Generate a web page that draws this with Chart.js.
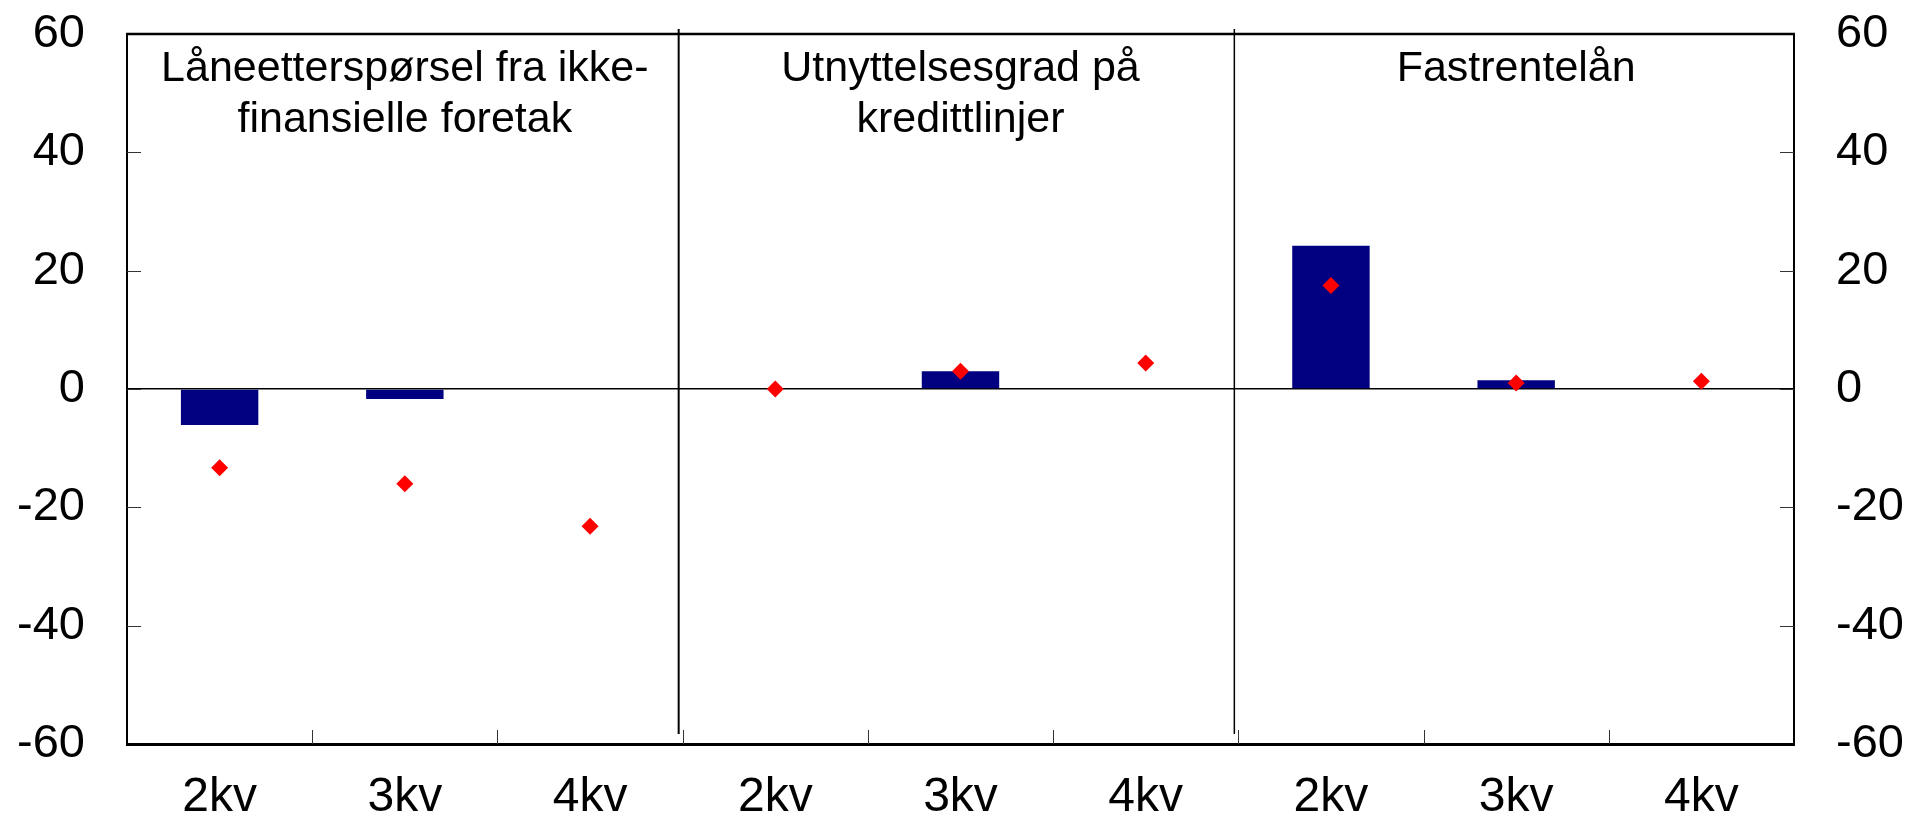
<!DOCTYPE html>
<html><head><meta charset="utf-8">
<script src="https://cdn.jsdelivr.net/npm/chart.js@4/dist/chart.umd.min.js"></script>
<style>html,body{margin:0;padding:0;background:#fff;overflow:hidden}#wrap{width:1908px;height:821px;position:relative}</style>
</head><body><div id="wrap"><canvas id="c" width="1908" height="821"></canvas></div>
<script>
const categories = ['2kv','3kv','4kv','2kv','3kv','4kv','2kv','3kv','4kv'];
const panelTitles = [['Låneetterspørsel fra ikke-','finansielle foretak'],['Utnyttelsesgrad på','kredittlinjer'],['Fastrentelån']];
const barValues = [-6.1, -1.7, null, null, 3.0, null, 24.2, 1.5, null];
const pointValues = [-13.3, -16.0, -23.2, 0.0, 3.0, 4.4, 17.5, 1.0, 1.3];
const yTicks = [-60, -40, -20, 0, 20, 40, 60];

const FONT = "'Liberation Sans', Arial, Helvetica, sans-serif";

const decor = {
  id: 'decor',
  afterDraw(chart) {
    const ctx = chart.ctx;
    const a = chart.chartArea;
    const xs = chart.scales.x;
    const ys = chart.scales.y;
    ctx.save();
    ctx.strokeStyle = '#000';
    ctx.lineWidth = 2.5;
    ctx.beginPath();
    ctx.moveTo(a.left - 1, a.top);
    ctx.lineTo(a.right + 1, a.top);
    ctx.stroke();
    const n = categories.length;
    const bnd = [];
    for (let i = 1; i < n; i++) {
      bnd.push((xs.getPixelForValue(i - 1) + xs.getPixelForValue(i)) / 2);
    }
    ctx.strokeStyle = '#333';
    ctx.lineWidth = 1;
    bnd.forEach(b => {
      ctx.beginPath();
      ctx.moveTo(Math.round(b) + 0.5, a.bottom);
      ctx.lineTo(Math.round(b) + 0.5, a.bottom - 14);
      ctx.stroke();
    });
    yTicks.forEach(v => {
      if (v === yTicks[0] || v === yTicks[yTicks.length - 1]) return;
      const p = Math.round(ys.getPixelForValue(v)) + 0.5;
      ctx.beginPath();
      ctx.moveTo(a.left, p); ctx.lineTo(a.left + 14, p);
      ctx.moveTo(a.right, p); ctx.lineTo(a.right - 14, p);
      ctx.stroke();
    });
    ctx.strokeStyle = '#000';
    [[bnd[2], 2], [bnd[5], 1.5]].forEach(([b, w]) => {
      ctx.lineWidth = w;
      ctx.beginPath();
      ctx.moveTo(b - 4, a.top - 5);
      ctx.lineTo(b - 4, a.bottom - 10);
      ctx.stroke();
    });
    ctx.fillStyle = '#000';
    ctx.font = '43px ' + FONT;
    ctx.textAlign = 'center';
    ctx.textBaseline = 'alphabetic';
    const edges = [a.left, bnd[2], bnd[5], a.right];
    panelTitles.forEach((lines, k) => {
      const cx = (edges[k] + edges[k + 1]) / 2;
      lines.forEach((t, j) => ctx.fillText(t, cx, 81 + j * 51));
    });
    ctx.restore();
  }
};

function fixY(w) {
  return s => { s.width = w; s.paddingTop = 34; s.paddingBottom = 0; };
}

new Chart(document.getElementById('c'), {
  type: 'bar',
  data: {
    labels: categories,
    datasets: [
      {
        type: 'line',
        label: 'points',
        data: pointValues,
        showLine: false,
        pointStyle: 'rectRot',
        pointRadius: 8.5,
        pointBackgroundColor: '#ff0000',
        pointBorderWidth: 0,
        borderColor: '#ff0000',
        order: 0
      },
      {
        type: 'bar',
        label: 'bars',
        data: barValues,
        backgroundColor: '#000080',
        borderWidth: 0,
        categoryPercentage: 1,
        barPercentage: 0.418,
        order: 1
      }
    ]
  },
  options: {
    responsive: false,
    animation: false,
    devicePixelRatio: 1,
    layout: { padding: 0 },
    plugins: { legend: { display: false }, tooltip: { enabled: false } },
    scales: {
      x: {
        type: 'category',
        offset: true,
        grid: { display: false, drawTicks: false },
        border: { display: true, color: '#000', width: 3 },
        ticks: { color: '#000', font: { size: 48, family: FONT }, padding: 25, maxRotation: 0, autoSkip: false },
        afterFit: s => { s.height = 77; s.paddingLeft = 0; s.paddingRight = 0; }
      },
      y: {
        position: 'left',
        min: -60, max: 60,
        afterBuildTicks: s => { s.ticks = yTicks.map(v => ({ value: v })); },
        ticks: { color: '#000', font: { size: 47, family: FONT }, padding: 42 },
        grid: {
          drawTicks: false,
          color: c => (c.tick && c.tick.value === 0) ? '#000' : 'rgba(0,0,0,0)',
          lineWidth: 1.5
        },
        border: { display: true, color: '#000', width: 2 },
        afterFit: fixY(127)
      },
      y2: {
        position: 'right',
        min: -60, max: 60,
        afterBuildTicks: s => { s.ticks = yTicks.map(v => ({ value: v })); },
        ticks: { color: '#000', font: { size: 47, family: FONT }, padding: 42 },
        grid: { display: false, drawTicks: false },
        border: { display: true, color: '#000', width: 2 },
        afterFit: fixY(114)
      }
    }
  },
  plugins: [decor]
});
</script>
</body></html>
